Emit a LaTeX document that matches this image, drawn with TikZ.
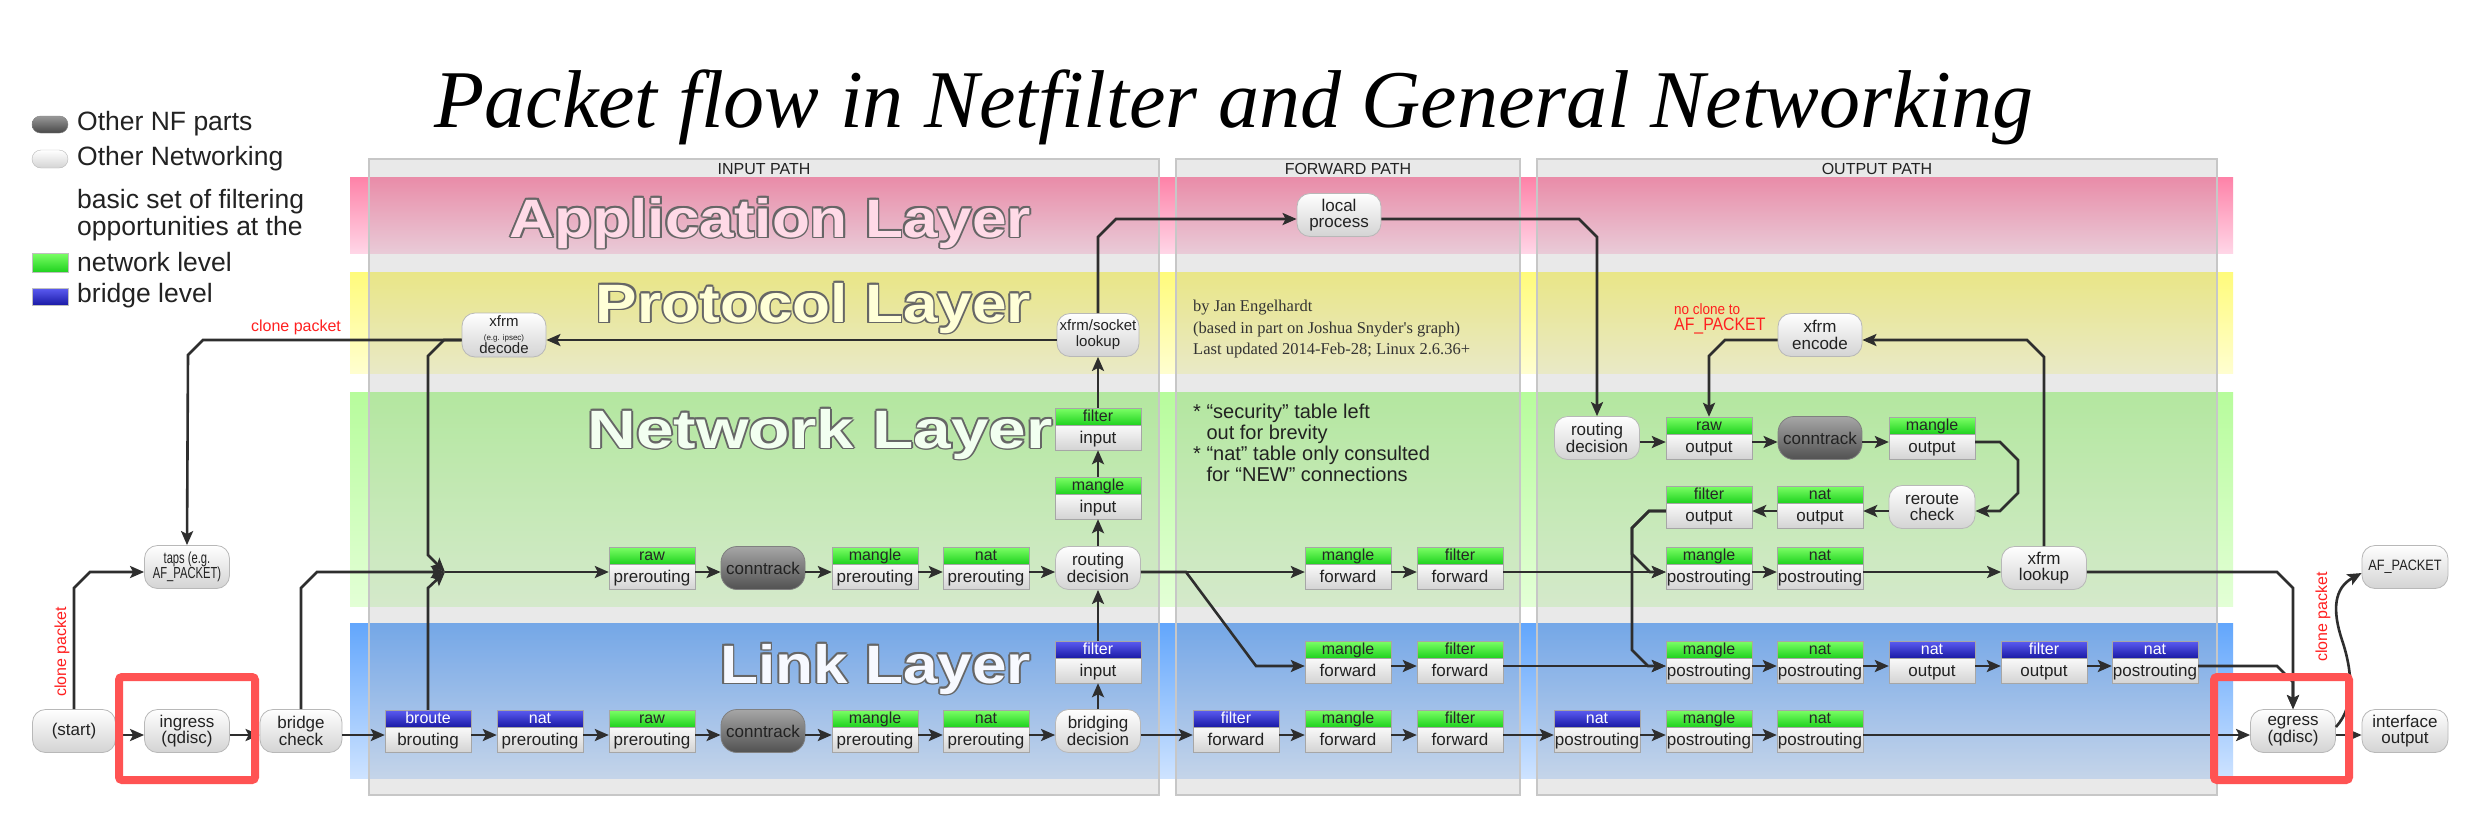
\documentclass[tikz,border=0pt]{standalone}
\usepackage{fontspec}
\setmainfont{Liberation Sans}
\newfontfamily\seriffont{Liberation Serif}
\usetikzlibrary{arrows.meta,calc}
\definecolor{pinkT}{HTML}{FE82A8}
\definecolor{pinkB}{HTML}{FFD6E7}
\definecolor{yelT}{HTML}{FFFB7B}
\definecolor{yelB}{HTML}{FFFED0}
\definecolor{grnT}{HTML}{B7FC9C}
\definecolor{grnB}{HTML}{E3FFD6}
\definecolor{bluT}{HTML}{62A6FC}
\definecolor{bluB}{HTML}{CEE3FF}
\definecolor{arrowc}{HTML}{2E2E2E}
\definecolor{hgT}{HTML}{7CFF66}
\definecolor{hgB}{HTML}{1FD21F}
\definecolor{hbT}{HTML}{5C5CF2}
\definecolor{hbB}{HTML}{1A1AA6}
\definecolor{redann}{HTML}{FF5353}
\definecolor{redtext}{HTML}{FF2020}
\definecolor{txt}{HTML}{222222}
\tikzset{
  pill/.style={draw=black!28, line width=0.8pt, rounded corners=13pt, top color=white, bottom color=black!17,
    minimum width=85pt, minimum height=43pt, inner sep=1pt, align=center,
    font=\fontsize{17}{16.5}\selectfont, text=txt},
  ctpill/.style={pill, draw=black!50, top color=black!35, bottom color=black!68, rounded corners=16pt, minimum width=84pt},
  arr/.style={draw=arrowc, line width=2.6pt, -{Stealth[length=14pt,width=12pt,inset=3pt]}},
  ha/.style={arr, transform canvas={yshift=-4pt}},
  boxbody/.style={draw=black!35, line width=0.8pt, top color=black!2, bottom color=black!17},
  hg/.style={draw=black!35, line width=0.8pt, top color=hgT, bottom color=hgB},
  hb/.style={draw=black!35, line width=0.8pt, top color=hbT, bottom color=hbB},
  hdrfont/.style={font=\fontsize{16}{16}\selectfont},
  bodyfont/.style={font=\fontsize{17}{17}\selectfont, text=txt},
  panel/.style={fill=black!33, fill opacity=0.25, draw=black!22, line width=1.2pt},
  layerfont/.style={font=\fontsize{54}{54}\selectfont\bfseries, inner sep=0pt},
  legfont/.style={font=\fontsize{26.5}{26.5}\selectfont, text=txt, inner sep=0pt},
  redtxt/.style={font=\fontsize{16}{16}\selectfont, text=redtext, inner sep=0pt},
  redbox/.style={draw=redann, line width=8pt, rounded corners=3pt},
}
\newcommand\TBox[7]{%
  \shadedraw[boxbody] (#2-43,#3-4) rectangle (#2+43,#3+21);
  \shadedraw[#6] (#2-43,#3-21) rectangle (#2+43,#3-4);
  \node[hdrfont,text=#7,anchor=base,inner sep=0pt] at (#2,#3-8) {#4};
  \node[bodyfont,anchor=base,inner sep=0pt] at (#2,#3+14) {#5};
  \node[inner sep=0pt,minimum width=86pt,minimum height=42pt] (#1) at (#2,#3) {};
}
\newcommand\GBox[5]{\TBox{#1}{#2}{#3}{#4}{#5}{hg}{black!85}}
\newcommand\BBox[5]{\TBox{#1}{#2}{#3}{#4}{#5}{hb}{white}}
\newcommand\LayerLbl[5]{%
  \foreach \dx/\dy in {-1.8/0,1.8/0,0/-1.8,0/1.8,-1.3/-1.3,1.3/1.3,-1.3/1.3,1.3/-1.3}{
    \node[layerfont, text=black!60, anchor=base east] at (#1+\dx,#2+\dy) {\scalebox{#5}[1]{#3}};}
  \node[layerfont, text=#4, anchor=base east] at (#1,#2) {\scalebox{#5}[1]{#3}};
}
\begin{document}
\begin{tikzpicture}[x=1pt,y=-1pt]
\useasboundingbox[fill=white] (0,0) rectangle (2472,820);
% layer bands
\shade[top color=pinkT, bottom color=pinkB] (350,177) rectangle (2233,253);
\shade[top color=yelT, bottom color=yelB] (350,272) rectangle (2233,373);
\shade[top color=grnT, bottom color=grnB] (350,392) rectangle (2233,606);
\shade[top color=bluT, bottom color=bluB] (350,623) rectangle (2233,778);
% path panels
\path[panel] (369,159) rectangle (1159,795);
\path[panel] (1176,159) rectangle (1520,795);
\path[panel] (1537,159) rectangle (2217,795);
\node[font=\fontsize{16}{16}\selectfont, text=txt] (hin) at (764,169) {INPUT PATH};
\node[font=\fontsize{16}{16}\selectfont, text=txt] (hfw) at (1348,169) {FORWARD PATH};
\node[font=\fontsize{16}{16}\selectfont, text=txt] (hout) at (1877,169) {OUTPUT PATH};
% layer labels
\LayerLbl{1031}{237}{Application Layer}{pinkB!75!pinkT!60!white}{1.15}
\LayerLbl{1031}{322}{Protocol Layer}{yelB!80!yellow!45!white}{1.15}
\LayerLbl{1053}{448}{Network Layer}{grnB!80!green!18!white}{1.25}
\LayerLbl{1031}{683}{Link Layer}{bluB!85!blue!10!white}{1.15}
% title
\node[font=\seriffont\itshape\fontsize{82}{82}\selectfont, anchor=base, inner sep=0pt] (title) at (1234,127) {Packet flow in Netfilter and General Networking};
% legend
\shadedraw[draw=black!50, top color=black!40, bottom color=black!72, rounded corners=8.5pt] (32,116) rectangle (68,133);
\shadedraw[draw=black!28, top color=white, bottom color=black!17, rounded corners=9pt] (32,150) rectangle (68,168);
\shadedraw[draw=black!25, top color=hgT, bottom color=hgB] (32,253) rectangle (68,272);
\shadedraw[draw=black!25, top color=hbT, bottom color=hbB] (32,288) rectangle (68,305);
\node[legfont, anchor=west] (l1) at (77,124) {Other NF parts};
\node[legfont, anchor=west] (l2) at (77,159) {Other Networking};
\node[legfont, anchor=west, align=left] (l3) at (77,215) {basic set of filtering\\opportunities at the};
\node[legfont, anchor=west] (l4) at (77,262) {network level};
\node[legfont, anchor=west] (l5) at (77,296) {bridge level};
% credits and notes
\node[font=\seriffont\fontsize{16.5}{16.5}\selectfont, text=black!80, anchor=west, inner sep=0pt] (c1) at (1193,308) {by Jan Engelhardt};
\node[font=\seriffont\fontsize{16.5}{16.5}\selectfont, text=black!80, anchor=west, inner sep=0pt] (c2) at (1193,330) {(based in part on Joshua Snyder's graph)};
\node[font=\seriffont\fontsize{16.5}{16.5}\selectfont, text=black!80, anchor=west, inner sep=0pt] (c3) at (1193,351) {Last updated 2014-Feb-28; Linux 2.6.36+};
\node[font=\fontsize{20}{21}\selectfont, text=txt, anchor=north west, align=left, inner sep=0pt] (notes) at (1193,404) {* “security” table left\\\hphantom{* }out for brevity\\* “nat” table only consulted\\\hphantom{* }for “NEW” connections};
% red labels
\node[redtxt, rotate=90] (cl1) at (62,652) {clone packet};
\node[redtxt] (cl2) at (296,327) {clone packet};
\node[redtxt, rotate=90] (cl3) at (2323,617) {clone packet};
\node[redtxt, anchor=west, font=\fontsize{15}{15}\selectfont] (nc1) at (1674,309) {\scalebox{0.9}[1]{no clone to}};
\node[redtxt, anchor=west, font=\fontsize{18}{18}\selectfont] (nc2) at (1674,326) {\scalebox{0.88}[1]{AF\_PACKET}};
% pills
\node[pill,minimum width=83pt] (start) at (74,731) {(start)};
\node[pill] (ingress) at (187,731) {ingress\\(qdisc)};
\node[pill,minimum width=82pt] (bcheck) at (301,731) {bridge\\check};
\node[pill,font=\fontsize{16}{15}\selectfont] (taps) at (187,567) {\scalebox{0.7}[1]{taps (e.g.}\\\scalebox{0.7}[1]{AF\_PACKET)}};
\node[ctpill] (ct1) at (763,731) {conntrack};
\node[pill] (bridging) at (1098,731) {bridging\\decision};
\node[pill] (egress) at (2293,731) {egress\\(qdisc)};
\node[pill,minimum width=86pt] (ifout) at (2405,731) {interface\\output};
\node[ctpill] (ct2) at (763,568) {conntrack};
\node[pill] (rd) at (1098,568) {routing\\decision};
\node[pill] (xlookup) at (2044,568) {xfrm\\lookup};
\node[pill,minimum width=86pt,font=\fontsize{15}{15}\selectfont] (afp) at (2405,567) {\scalebox{0.85}[1]{AF\_PACKET}};
\node[pill] (rdo) at (1597,438) {routing\\decision};
\node[ctpill] (ct3) at (1820,438) {conntrack};
\node[pill,minimum width=86pt] (reroute) at (1932,507) {reroute\\check};
\node[pill,minimum width=84pt,minimum height=44pt,font=\fontsize{15}{13.5}\selectfont] (decode) at (504,335) {xfrm\\{\fontsize{8}{8}\selectfont (e.g. ipsec)}\\decode};
\node[pill,minimum width=82pt,font=\fontsize{15}{16}\selectfont] (sock) at (1098,335) {xfrm/socket\\lookup};
\node[pill,minimum width=84pt] (xencode) at (1820,335) {xfrm\\encode};
\node[pill,minimum width=84pt] (lp) at (1339,215) {local\\process};
% tables: link row
\BBox{broute}{428}{731}{broute}{brouting}
\BBox{natpreb}{540}{731}{nat}{prerouting}
\GBox{rawpre1}{652}{731}{raw}{prerouting}
\GBox{manglepre1}{875}{731}{mangle}{prerouting}
\GBox{natpre1}{986}{731}{nat}{prerouting}
\BBox{filterfwdb}{1236}{731}{filter}{forward}
\GBox{manglefwd1}{1348}{731}{mangle}{forward}
\GBox{filterfwd1}{1460}{731}{filter}{forward}
\BBox{natpostb1}{1597}{731}{nat}{postrouting}
\GBox{manglepost1}{1709}{731}{mangle}{postrouting}
\GBox{natpost1}{1820}{731}{nat}{postrouting}
% upper link row
\BBox{filterinb}{1098}{662}{filter}{input}
\GBox{manglefwd2}{1348}{662}{mangle}{forward}
\GBox{filterfwd2}{1460}{662}{filter}{forward}
\GBox{manglepost2}{1709}{662}{mangle}{postrouting}
\GBox{natpost2}{1820}{662}{nat}{postrouting}
\BBox{natoutb}{1932}{662}{nat}{output}
\BBox{filteroutb}{2044}{662}{filter}{output}
\BBox{natpostb2}{2155}{662}{nat}{postrouting}
% network rows
\GBox{rawpre}{652}{568}{raw}{prerouting}
\GBox{manglepre}{875}{568}{mangle}{prerouting}
\GBox{natpre}{986}{568}{nat}{prerouting}
\GBox{manglefwdn}{1348}{568}{mangle}{forward}
\GBox{filterfwdn}{1460}{568}{filter}{forward}
\GBox{manglepostn}{1709}{568}{mangle}{postrouting}
\GBox{natpostn}{1820}{568}{nat}{postrouting}
\GBox{manglein}{1098}{498}{mangle}{input}
\GBox{filterin}{1098}{429}{filter}{input}
\GBox{rawout}{1709}{438}{raw}{output}
\GBox{mangleout}{1932}{438}{mangle}{output}
\GBox{natout}{1820}{507}{nat}{output}
\GBox{filterout}{1709}{507}{filter}{output}
% horizontal connectors
\foreach \a/\b in {start/ingress,ingress/bcheck,bcheck/broute,broute/natpreb,natpreb/rawpre1,rawpre1/ct1,ct1/manglepre1,manglepre1/natpre1,natpre1/bridging,bridging/filterfwdb,filterfwdb/manglefwd1,manglefwd1/filterfwd1,filterfwd1/natpostb1,natpostb1/manglepost1,manglepost1/natpost1,natpost1/egress,egress/ifout,
  manglefwd2/filterfwd2,filterfwd2/manglepost2,manglepost2/natpost2,natpost2/natoutb,natoutb/filteroutb,filteroutb/natpostb2,
  rawpre/ct2,ct2/manglepre,manglepre/natpre,natpre/rd,rd/manglefwdn,manglefwdn/filterfwdn,filterfwdn/manglepostn,manglepostn/natpostn,natpostn/xlookup,
  rdo/rawout,rawout/ct3,ct3/mangleout}
  \draw[ha] (\a.east) -- (\b.west);
\foreach \a/\b in {reroute/natout,natout/filterout}
  \draw[ha] (\a.west) -- (\b.east);
% vertical connectors
\draw[arr] (bridging.north) -- (filterinb.south);
\draw[arr] (filterinb.north) -- (rd.south);
\draw[arr] (rd.north) -- (manglein.south);
\draw[arr] (manglein.north) -- (filterin.south);
\draw[arr] (filterin.north) -- (sock.south);
% bent connectors
\coordinate (m) at (445,572);
\draw[arr] (start.north) -- (74,588) -- (90,572) -- ([yshift=-5pt]taps.west);
\draw[arr] (bcheck.north) -- (301,588) -- (317,572) -- (m);
\draw[arr] (broute.north) -- (428,588) -- (m);
\draw[arr] ([yshift=-5pt]decode.west) -- (444,340) -- (428,356) -- (428,555) -- (m);
\draw[arr] ([yshift=-5pt]decode.west) -- (203,340) -- (188,355) -- (taps.north);
\draw[arr] (m) -- ([yshift=-4pt]rawpre.west);
\draw[arr] ([yshift=-4pt]rd.east) -- (1186,572) -- (1256,666) -- ([yshift=-4pt]manglefwd2.west);
\draw[arr] ([yshift=-4pt]natpostb2.east) -- (2277,666) -- (2293,682) -- (egress.north);
\draw[arr] ([yshift=-4pt]xlookup.east) -- (2277,572) -- (2293,588) -- (egress.north);
\draw[arr] ([yshift=-5pt]sock.west) -- ([yshift=-5pt]decode.east);
\draw[arr] (sock.north) -- (1098,237) -- (1116,219) -- ([yshift=-4pt]lp.west);
\draw[arr] ([yshift=-4pt]lp.east) -- (1579,219) -- (1597,237) -- (rdo.north);
\draw[arr] ([yshift=-4pt]mangleout.east) -- (2000,442) -- (2018,460) -- (2018,493) -- (2000,511) -- ([yshift=-4pt]reroute.east);
\draw[arr] ([yshift=-4pt]filterout.west) -- (1649,511) -- (1632,528) -- (1632,650) -- (1648,666) -- ([yshift=-4pt]manglepost2.west);
\draw[arr] ([yshift=-4pt]filterout.west) -- (1649,511) -- (1632,528) -- (1632,554) -- (1650,572) -- ([yshift=-4pt]manglepostn.west);
\draw[arr] (xlookup.north) -- (2044,357) -- (2027,340) -- ([yshift=-5pt]xencode.east);
\draw[arr] ([yshift=-5pt]xencode.west) -- (1725,340) -- (1709,356) -- (rawout.north);
\draw[arr] ([yshift=4pt]egress.east) .. controls (2356,705) and (2352,670) .. (2342,640) .. controls (2332,610) and (2334,588) .. ([yshift=-6pt]afp.west);
% red annotation boxes
\draw[redbox] (119,677) rectangle (255,780);
\draw[redbox] (2214,677) rectangle (2349,780);
\end{tikzpicture}
\end{document}
